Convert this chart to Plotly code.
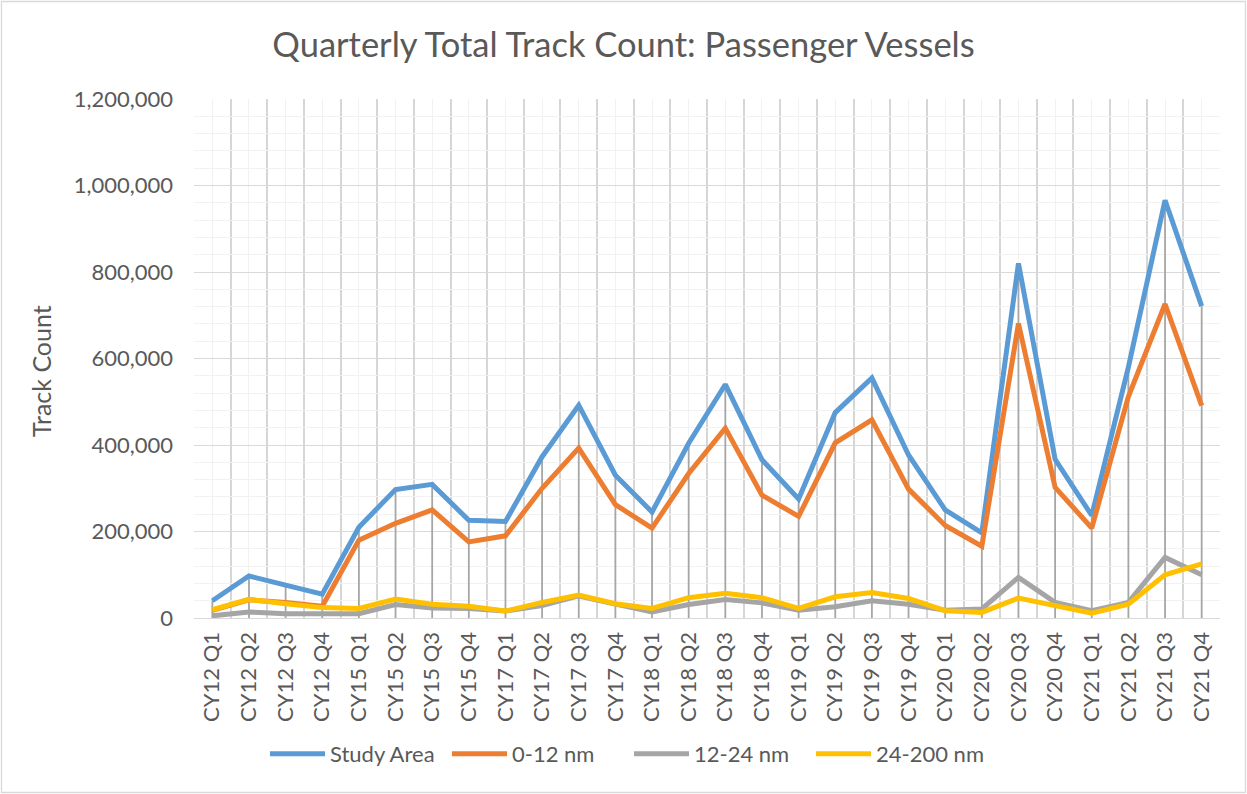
import plotly.graph_objects as go

categories = ["CY12 Q1", "CY12 Q2", "CY12 Q3", "CY12 Q4",
              "CY15 Q1", "CY15 Q2", "CY15 Q3", "CY15 Q4",
              "CY17 Q1", "CY17 Q2", "CY17 Q3", "CY17 Q4",
              "CY18 Q1", "CY18 Q2", "CY18 Q3", "CY18 Q4",
              "CY19 Q1", "CY19 Q2", "CY19 Q3", "CY19 Q4",
              "CY20 Q1", "CY20 Q2", "CY20 Q3", "CY20 Q4",
              "CY21 Q1", "CY21 Q2", "CY21 Q3", "CY21 Q4"]

study_area = [40000, 97000, 76000, 55000, 210000, 297000, 309000, 226000,
              223000, 373000, 492000, 330000, 245000, 404000, 540000, 366000,
              275000, 475000, 555000, 377000, 250000, 197000, 820000, 367000,
              237000, 580000, 966000, 721000]
nm_0_12 = [18000, 42000, 36000, 27000, 180000, 219000, 250000, 176000,
           190000, 300000, 393000, 262000, 208000, 334000, 439000, 284000,
           235000, 405000, 458000, 298000, 214000, 166000, 681000, 302000,
           208000, 512000, 726000, 491000]
nm_12_24 = [5000, 14000, 10000, 9000, 10000, 31000, 23000, 22000,
            16000, 29000, 51000, 32000, 14000, 31000, 43000, 35000,
            18000, 26000, 40000, 32000, 18000, 21000, 94000, 36000,
            17000, 36000, 140000, 100000]
nm_24_200 = [19000, 43000, 33000, 24000, 22000, 44000, 32000, 27000,
             16000, 36000, 53000, 33000, 22000, 47000, 57000, 47000,
             22000, 49000, 59000, 45000, 17000, 13000, 46000, 28000,
             11000, 32000, 100000, 125000]

series_names = ["Study Area", "0-12 nm", "12-24 nm", "24-200 nm"]
series_values = [study_area, nm_0_12, nm_12_24, nm_24_200]
series_colors = ["#5B9BD5", "#ED7D31", "#A5A5A5", "#FFC000"]

FONT = "Lato"
TXT = "#595959"

n = len(categories)
xs = list(range(n))

fig = go.Figure()

# drop lines from the highest series point down to the axis
dx, dy = [], []
for i in xs:
    top = max(v[i] for v in series_values)
    dx += [i, i, None]
    dy += [0, top, None]
fig.add_trace(go.Scatter(x=dx, y=dy, mode="lines", showlegend=False,
                         hoverinfo="skip",
                         line=dict(color="#A6A6A6", width=1.8)))

for name, vals, col in zip(series_names, series_values, series_colors):
    fig.add_trace(go.Scatter(x=xs, y=vals, mode="lines", name=name,
                             line=dict(color=col, width=5)))

L, R, T, B = 194, 27, 99, 176
W, H = 1247, 794
pw, ph = W - L - R, H - T - B

def px_x(p):
    return (p - L) / pw

def px_y(p):
    return (H - B - p) / ph

fig.update_layout(
    width=W, height=H,
    margin=dict(l=L, r=R, t=T, b=B, pad=0, autoexpand=False),
    paper_bgcolor="white", plot_bgcolor="white",
    font=dict(family=FONT, size=22, color=TXT),
    title=dict(text="Quarterly Total Track Count: Passenger Vessels",
               x=0.5, xanchor="center", xref="container",
               y=1 - 45 / H, yanchor="middle", yref="container",
               font=dict(family=FONT, size=34.5, color=TXT)),
    showlegend=True,
    legend=dict(orientation="h", x=px_x(629), xanchor="center", xref="paper",
                y=px_y(754), yanchor="middle",
                font=dict(family=FONT, size=22, color=TXT),
                itemwidth=55, entrywidth=112, entrywidthmode="pixels",
                traceorder="normal", bgcolor="rgba(0,0,0,0)"),
    xaxis=dict(range=[-0.5, n - 0.5], tickmode="array", tickvals=xs,
               ticktext=categories, tickangle=-90,
               showgrid=True, gridcolor="#F2F2F2", gridwidth=1.3,
               zeroline=False, showline=True, linecolor="#D9D9D9", linewidth=1.3,
               ticks="", tickfont=dict(family=FONT, size=22, color=TXT),
               ticklabelstandoff=4,
               minor=dict(tickmode="array",
                          tickvals=[i - 0.5 for i in range(n + 1)],
                          showgrid=True, gridcolor="#D6D6D6", gridwidth=1.6,
                          ticks="")),
    yaxis=dict(range=[0, 1200000], dtick=200000, tick0=0, tickformat=",",
               showgrid=True, gridcolor="#D9D9D9", gridwidth=1.3,
               zeroline=False, showline=False, ticks="",
               tickfont=dict(family=FONT, size=22, color=TXT),
               ticklabelstandoff=20,
               minor=dict(dtick=40000, showgrid=True, gridcolor="#F2F2F2",
                          gridwidth=1.3, ticks="")),
    annotations=[dict(text="Track Count", textangle=-90, showarrow=False,
                      xref="paper", yref="paper",
                      x=px_x(41), y=px_y(371), xanchor="center",
                      yanchor="middle",
                      font=dict(family=FONT, size=25, color=TXT))],
    shapes=[dict(type="rect", xref="paper", yref="paper",
                 x0=px_x(1.5), x1=px_x(W - 1.5), y0=px_y(H - 1.5), y1=px_y(1.5),
                 line=dict(color="#D9D9D9", width=1.3), layer="below")],
)

fig.write_html("out.html", config={"displayModeBar": False},
               post_script="document.body.style.margin='0px';")
